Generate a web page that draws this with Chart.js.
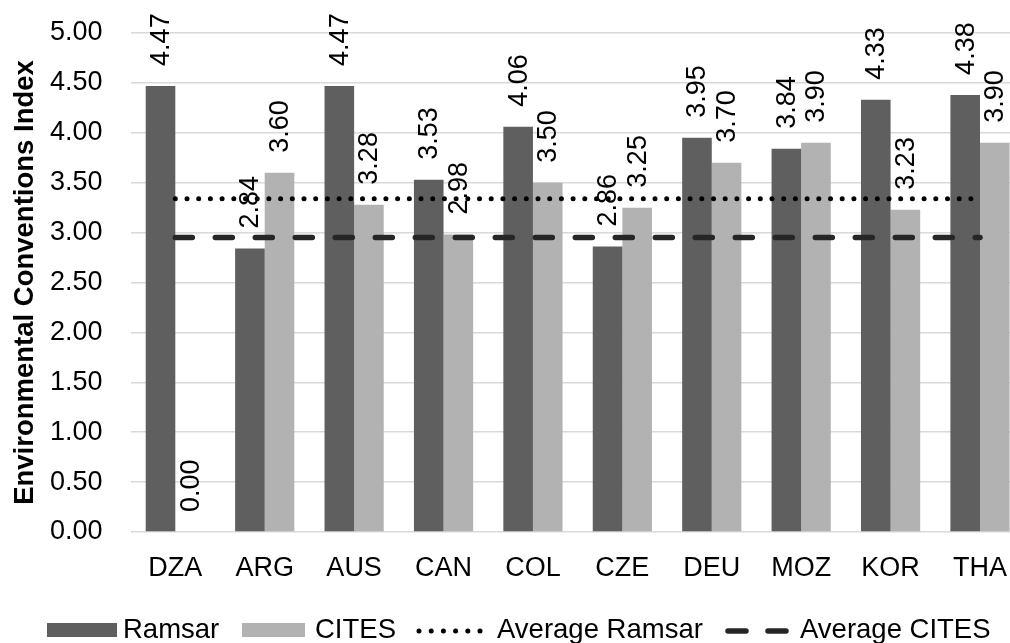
<!DOCTYPE html>
<html>
<head>
<meta charset="utf-8">
<script src="https://cdn.jsdelivr.net/npm/chart.js@4/dist/chart.umd.min.js"></script>
<style>
  html, body { margin: 0; padding: 0; background: #fff; overflow: hidden; width: 1010px; height: 643px; }
  #wrap { width: 1060px; height: 643px; }
</style>
</head>
<body>
<div id="wrap"><canvas id="c" width="1060" height="643"></canvas></div>
<script>
// Countries and convention scores
const countries = ['DZA', 'ARG', 'AUS', 'CAN', 'COL', 'CZE', 'DEU', 'MOZ', 'KOR', 'THA'];
const ramsar = [4.47, 2.84, 4.47, 3.53, 4.06, 2.86, 3.95, 3.84, 4.33, 4.38];
const cites = [0.00, 3.60, 3.28, 2.98, 3.50, 3.25, 3.70, 3.90, 3.23, 3.90];
const averageRamsar = [3.34, 3.34, 3.34, 3.34, 3.34, 3.34, 3.34, 3.34, 3.34, 3.34];
const averageCites = [2.95, 2.95, 2.95, 2.95, 2.95, 2.95, 2.95, 2.95, 2.95, 2.95];
const yTickValues = [0, 0.5, 1, 1.5, 2, 2.5, 3, 3.5, 4, 4.5, 5];
const seriesNames = ['Ramsar', 'CITES', 'Average Ramsar', 'Average CITES'];

const FONT = '"Liberation Sans", Arial, Helvetica, sans-serif';
const DARK = '#5f5f5f';
const LIGHT = '#b2b2b2';

// Rotated value labels above each bar
const valueLabels = {
  id: 'valueLabels',
  afterDatasetsDraw(chart) {
    const ctx = chart.ctx;
    ctx.save();
    ctx.font = '27px ' + FONT;
    ctx.fillStyle = '#000';
    ctx.textAlign = 'left';
    ctx.textBaseline = 'middle';
    [0, 1].forEach(di => {
      const meta = chart.getDatasetMeta(di);
      const values = chart.data.datasets[di].data;
      meta.data.forEach((el, i) => {
        ctx.save();
        ctx.translate(el.x, el.y - 20);
        ctx.rotate(-Math.PI / 2);
        ctx.fillText(values[i].toFixed(2), 0, 1);
        ctx.restore();
      });
    });
    ctx.restore();
  }
};

// Legend row along the bottom
const bottomLegend = {
  id: 'bottomLegend',
  afterDraw(chart) {
    const ctx = chart.ctx;
    const cy = 630;
    ctx.save();
    // Ramsar swatch
    ctx.fillStyle = DARK;
    ctx.fillRect(47, 623, 70, 14);
    // CITES swatch
    ctx.fillStyle = LIGHT;
    ctx.fillRect(242, 623, 63, 14);
    // dotted sample
    ctx.strokeStyle = '#000';
    ctx.lineWidth = 5;
    ctx.lineCap = 'round';
    ctx.setLineDash([0, 12.2]);
    ctx.beginPath(); ctx.moveTo(419, cy + 1); ctx.lineTo(481, cy + 1); ctx.stroke();
    // dashed sample
    ctx.strokeStyle = '#262626';
    ctx.lineWidth = 5.5;
    ctx.setLineDash([18, 22]);
    ctx.beginPath(); ctx.moveTo(728, cy + 1); ctx.lineTo(790, cy + 1); ctx.stroke();
    ctx.setLineDash([]);
    // texts
    ctx.fillStyle = '#000';
    ctx.font = '27.5px ' + FONT;
    ctx.textAlign = 'left';
    ctx.textBaseline = 'alphabetic';
    const textX = [123, 315, 497, 800];
    seriesNames.forEach((t, i) => ctx.fillText(t, textX[i], 638));
    ctx.restore();
  }
};

new Chart(document.getElementById('c'), {
  data: {
    labels: countries,
    datasets: [
      { type: 'bar', label: seriesNames[0], data: ramsar, backgroundColor: DARK, order: 2,
        barPercentage: 1.0, categoryPercentage: 0.662 },
      { type: 'bar', label: seriesNames[1], data: cites, backgroundColor: LIGHT, order: 2,
        barPercentage: 1.0, categoryPercentage: 0.662 },
      { type: 'line', label: seriesNames[2], data: averageRamsar, borderColor: '#000',
        borderWidth: 5, borderDash: [0, 11.7], borderCapStyle: 'round', pointRadius: 0,
        fill: false, order: 1 },
      { type: 'line', label: seriesNames[3], data: averageCites, borderColor: '#262626',
        borderWidth: 5.5, borderDash: [17, 23], borderCapStyle: 'round', pointRadius: 0,
        fill: false, order: 1 }
    ]
  },
  options: {
    responsive: false,
    animation: false,
    devicePixelRatio: 1,
    layout: { padding: { top: 33, right: 35.3, bottom: 0, left: 0 } },
    plugins: {
      legend: { display: false },
      tooltip: { enabled: false }
    },
    scales: {
      x: {
        offset: true,
        grid: { display: false },
        border: { display: false },
        ticks: { color: '#000', font: { family: FONT, size: 27 }, padding: 12, maxRotation: 0, autoSkip: false },
        afterFit(scale) { scale.height = 111; }
      },
      y: {
        min: 0,
        max: 5,
        afterBuildTicks(scale) { scale.ticks = yTickValues.map(v => ({ value: v })); },
        grid: { color: '#d9d9d9', lineWidth: 1.5, drawTicks: false },
        border: { display: false },
        ticks: {
          color: '#000',
          font: { family: FONT, size: 27 },
          padding: 28,
          callback: v => Number(v).toFixed(2)
        },
        title: {
          display: true,
          text: 'Environmental Conventions Index',
          color: '#000',
          font: { family: FONT, size: 27.5, weight: 'bold' },
          padding: { top: 9, bottom: 0 }
        },
        afterFit(scale) {
          scale.width = 130.6;
          scale.paddingTop = 0;
          scale.paddingBottom = 0;
        }
      }
    }
  },
  plugins: [valueLabels, bottomLegend]
});
</script>
</body>
</html>
